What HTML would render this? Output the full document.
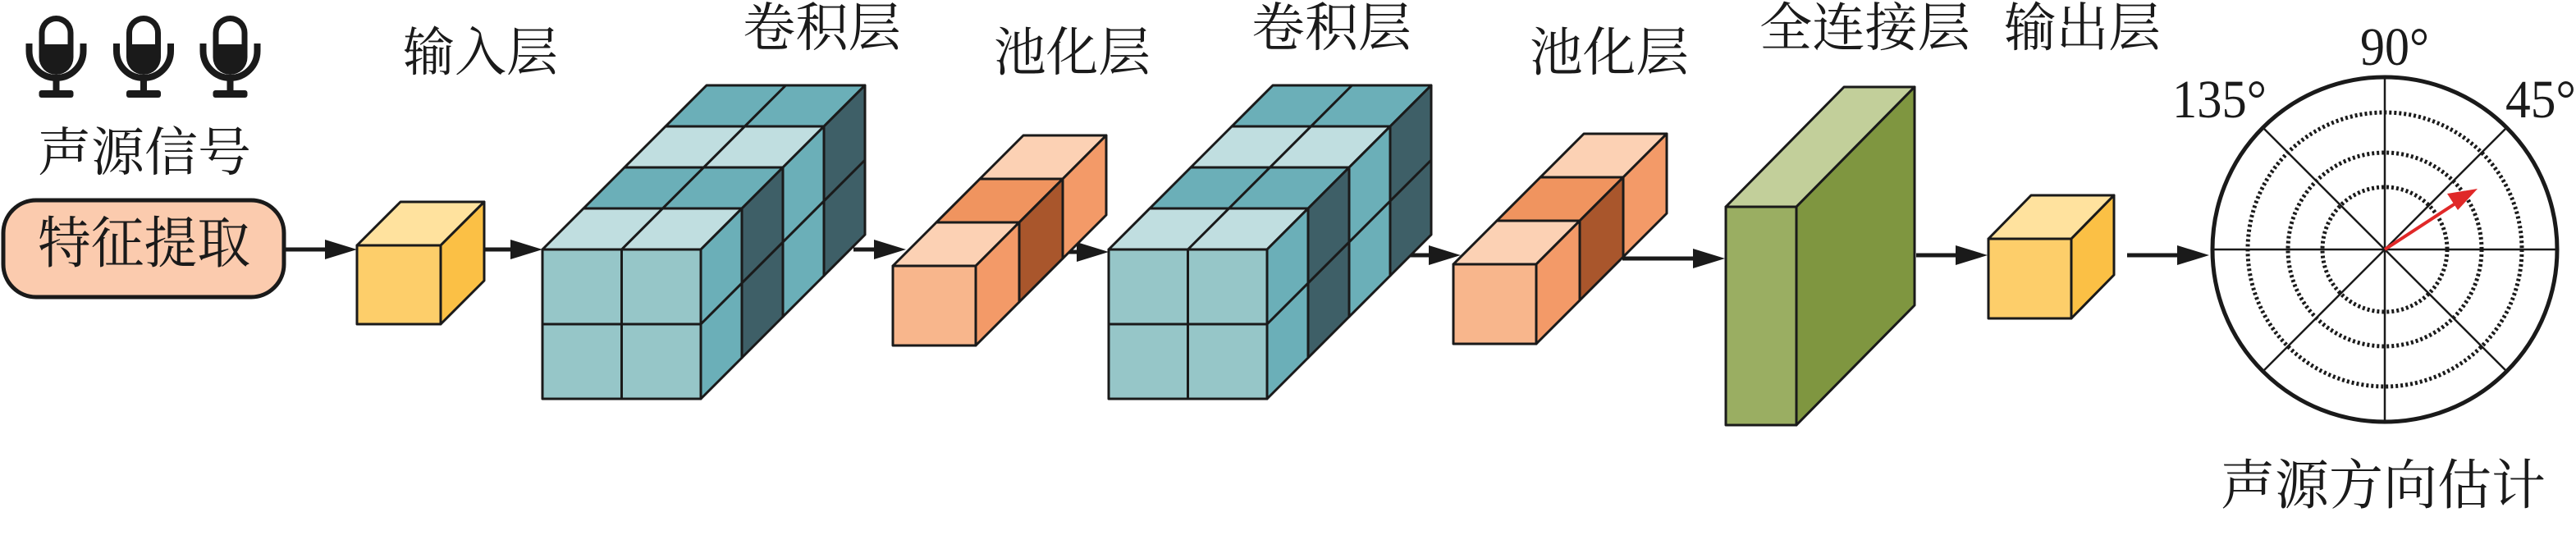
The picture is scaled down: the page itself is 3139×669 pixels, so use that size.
<!DOCTYPE html>
<html><head><meta charset="utf-8"><style>
html,body{margin:0;padding:0;background:#fff;}
svg{display:block;}
.cn{font-family:"Liberation Serif","Noto Serif CJK SC","Noto Serif CJK",serif;fill:#1a1a1a;}
.num{font-family:"Liberation Serif","Times New Roman",serif;fill:#1a1a1a;}
</style></head><body>
<svg width="3139" height="669" viewBox="0 0 3139 669" xmlns="http://www.w3.org/2000/svg">
<!-- mics -->
<g fill="#1a1a1a" stroke="#1a1a1a">
<g transform="translate(68.5,0)">
<rect x="-21" y="19" width="42" height="72" rx="21" stroke="none"/>
<path d="M-14,54 V40 A14,14 0 0 1 14,40 V54 Z" fill="#fff" stroke="none"/>
<path d="M-33,53 V62 A33,33 0 0 0 33,62 V53" fill="none" stroke-width="8"/>
<rect x="-4" y="95" width="8" height="18" stroke="none"/>
<rect x="-21" y="110" width="42" height="9" rx="3" stroke="none"/>
</g>
<g transform="translate(175,0)">
<rect x="-21" y="19" width="42" height="72" rx="21" stroke="none"/>
<path d="M-14,54 V40 A14,14 0 0 1 14,40 V54 Z" fill="#fff" stroke="none"/>
<path d="M-33,53 V62 A33,33 0 0 0 33,62 V53" fill="none" stroke-width="8"/>
<rect x="-4" y="95" width="8" height="18" stroke="none"/>
<rect x="-21" y="110" width="42" height="9" rx="3" stroke="none"/>
</g>
<g transform="translate(280.5,0)">
<rect x="-21" y="19" width="42" height="72" rx="21" stroke="none"/>
<path d="M-14,54 V40 A14,14 0 0 1 14,40 V54 Z" fill="#fff" stroke="none"/>
<path d="M-33,53 V62 A33,33 0 0 0 33,62 V53" fill="none" stroke-width="8"/>
<rect x="-4" y="95" width="8" height="18" stroke="none"/>
<rect x="-21" y="110" width="42" height="9" rx="3" stroke="none"/>
</g>
</g>
<text class="cn" x="46" y="208" font-size="64" textLength="260" lengthAdjust="spacingAndGlyphs">声源信号</text>
<rect x="4" y="244" width="342" height="118" rx="40" fill="#FBCBAE" stroke="#1a1a1a" stroke-width="5"/>
<text class="cn" x="46" y="320" font-size="68" textLength="259" lengthAdjust="spacingAndGlyphs">特征提取</text>

<!-- arrows -->
<g stroke="#1a1a1a" stroke-width="5" fill="#1a1a1a">
<line x1="347" y1="304" x2="400" y2="304"/><polygon stroke="none" points="435,304 396,292 396,316"/>
<line x1="589" y1="304" x2="630" y2="304"/><polygon stroke="none" points="661,304 622,292 622,316"/>
<line x1="1040" y1="304" x2="1070" y2="304"/><polygon stroke="none" points="1104,304 1065,292 1065,316"/>
<line x1="1290" y1="307" x2="1315" y2="307"/><polygon stroke="none" points="1351,307 1312,295 1312,319"/>
<line x1="1700" y1="311" x2="1745" y2="311"/><polygon stroke="none" points="1780,311 1741,299 1741,323"/>
<line x1="1977" y1="315" x2="2070" y2="315"/><polygon stroke="none" points="2102,315 2063,303 2063,327"/>
<line x1="2335" y1="311" x2="2390" y2="311"/><polygon stroke="none" points="2422,311 2383,299 2383,323"/>
<line x1="2592" y1="311" x2="2660" y2="311"/><polygon stroke="none" points="2692,311 2653,299 2653,323"/>
</g>

<g stroke="#1a1a1a" stroke-width="3" stroke-linejoin="round">
<polygon points="435,299 537,299 590,246 488,246" fill="#FFE29E"/>
<polygon points="537,299 590,246 590,342 537,395" fill="#FBC045"/>
<rect x="435" y="299" width="102" height="96" fill="#FDCE6A"/>

<polygon points="661,304 854,304 904,254 711,254" fill="#C0DEE0"/>
<polygon points="711,254 904,254 954,204 761,204" fill="#6BAFB8"/>
<polygon points="761,204 954,204 1004,154 811,154" fill="#C0DEE0"/>
<polygon points="811,154 1004,154 1054,104 861,104" fill="#6BAFB8"/>
<polygon points="854,304 904,254 904,436 854,486" fill="#6BAFB8"/>
<polygon points="904,254 954,204 954,386 904,436" fill="#3E5F67"/>
<polygon points="954,204 1004,154 1004,336 954,386" fill="#6BAFB8"/>
<polygon points="1004,154 1054,104 1054,286 1004,336" fill="#3E5F67"/>
<line x1="757.5" y1="304" x2="957.5" y2="104"/>
<line x1="854" y1="395" x2="1054" y2="195"/>
<rect x="661" y="304" width="193" height="182" fill="#96C6C8"/>
<line x1="757.5" y1="304" x2="757.5" y2="486"/>
<line x1="661" y1="395" x2="854" y2="395"/>

<polygon points="1088,324 1189,324 1242,271 1141,271" fill="#FCD1B4"/>
<polygon points="1141,271 1242,271 1295,218 1194,218" fill="#F0945F"/>
<polygon points="1194,218 1295,218 1348,165 1247,165" fill="#FCD1B4"/>
<polygon points="1189,324 1242,271 1242,368 1189,421" fill="#F39A68"/>
<polygon points="1242,271 1295,218 1295,315 1242,368" fill="#A9562C"/>
<polygon points="1295,218 1348,165 1348,262 1295,315" fill="#F39A68"/>
<rect x="1088" y="324" width="101" height="97" fill="#F8B68C"/>

<polygon points="1351,304 1544,304 1594,254 1401,254" fill="#C0DEE0"/>
<polygon points="1401,254 1594,254 1644,204 1451,204" fill="#6BAFB8"/>
<polygon points="1451,204 1644,204 1694,154 1501,154" fill="#C0DEE0"/>
<polygon points="1501,154 1694,154 1744,104 1551,104" fill="#6BAFB8"/>
<polygon points="1544,304 1594,254 1594,436 1544,486" fill="#6BAFB8"/>
<polygon points="1594,254 1644,204 1644,386 1594,436" fill="#3E5F67"/>
<polygon points="1644,204 1694,154 1694,336 1644,386" fill="#6BAFB8"/>
<polygon points="1694,154 1744,104 1744,286 1694,336" fill="#3E5F67"/>
<line x1="1447.5" y1="304" x2="1647.5" y2="104"/>
<line x1="1544" y1="395" x2="1744" y2="195"/>
<rect x="1351" y="304" width="193" height="182" fill="#96C6C8"/>
<line x1="1447.5" y1="304" x2="1447.5" y2="486"/>
<line x1="1351" y1="395" x2="1544" y2="395"/>

<polygon points="1771,322 1872,322 1925,269 1824,269" fill="#FCD1B4"/>
<polygon points="1824,269 1925,269 1978,216 1877,216" fill="#F0945F"/>
<polygon points="1877,216 1978,216 2031,163 1930,163" fill="#FCD1B4"/>
<polygon points="1872,322 1925,269 1925,366 1872,419" fill="#F39A68"/>
<polygon points="1925,269 1978,216 1978,313 1925,366" fill="#A9562C"/>
<polygon points="1978,216 2031,163 2031,260 1978,313" fill="#F39A68"/>
<rect x="1771" y="322" width="101" height="97" fill="#F8B68C"/>

<polygon points="2103,252 2189,252 2333,106 2247,106" fill="#C2CF9A"/>
<polygon points="2189,252 2333,106 2333,372 2189,518" fill="#7F9640"/>
<rect x="2103" y="252" width="86" height="266" fill="#9AAE62"/>

<polygon points="2423,291 2524,291 2576,238 2475,238" fill="#FFE29E"/>
<polygon points="2524,291 2576,238 2576,335 2524,388" fill="#FBC045"/>
<rect x="2423" y="291" width="101" height="97" fill="#FDCE6A"/>
</g>

<!-- polar -->
<g fill="none" stroke="#1a1a1a">
<circle cx="2906" cy="304" r="167" stroke-width="5" stroke-dasharray="3 3"/>
<circle cx="2906" cy="304" r="118" stroke-width="5" stroke-dasharray="3 3"/>
<circle cx="2906" cy="304" r="76" stroke-width="5" stroke-dasharray="3 3"/>
<g stroke-width="2.5">
<line x1="2696" y1="304" x2="3116" y2="304"/>
<line x1="2906" y1="94" x2="2906" y2="514"/>
<line x1="2757.5" y1="155.5" x2="3054.5" y2="452.5"/>
<line x1="3054.5" y1="155.5" x2="2757.5" y2="452.5"/>
</g>
<circle cx="2906" cy="304" r="210" stroke-width="5"/>
</g>
<line x1="2906" y1="304" x2="2995" y2="246" stroke="#E02828" stroke-width="4"/>
<polygon points="3019,230 2982,236 2995,256" fill="#E02828"/>

<!-- labels -->
<text class="cn" x="491" y="86" font-size="64" textLength="189" lengthAdjust="spacingAndGlyphs">输入层</text>
<text class="cn" x="905" y="56" font-size="64" textLength="193" lengthAdjust="spacingAndGlyphs">卷积层</text>
<text class="cn" x="1211" y="86" font-size="64" textLength="191" lengthAdjust="spacingAndGlyphs">池化层</text>
<text class="cn" x="1525" y="56" font-size="64" textLength="195" lengthAdjust="spacingAndGlyphs">卷积层</text>
<text class="cn" x="1864" y="86" font-size="64" textLength="194" lengthAdjust="spacingAndGlyphs">池化层</text>
<text class="cn" x="2144" y="56" font-size="64" textLength="257" lengthAdjust="spacingAndGlyphs">全连接层</text>
<text class="cn" x="2442" y="56" font-size="64" textLength="191" lengthAdjust="spacingAndGlyphs">输出层</text>
<text class="cn" x="2706" y="614" font-size="66" textLength="396" lengthAdjust="spacingAndGlyphs">声源方向估计</text>
<text class="num" x="2876" y="79" font-size="66" textLength="84" lengthAdjust="spacingAndGlyphs">90°</text>
<text class="num" x="2647" y="143" font-size="66" textLength="115" lengthAdjust="spacingAndGlyphs">135°</text>
<text class="num" x="3053" y="143" font-size="66" textLength="86" lengthAdjust="spacingAndGlyphs">45°</text>
</svg>
</body></html>
